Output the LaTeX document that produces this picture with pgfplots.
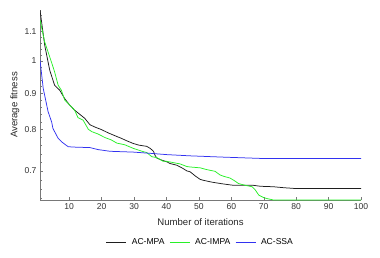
\documentclass[border=0pt]{standalone}
\usepackage{pgfplots}
\pgfplotsset{compat=1.18}
\usepackage{fontspec}
\setmainfont{Liberation Sans}
\definecolor{cblack}{RGB}{30,30,30}
\definecolor{cgreen}{RGB}{40,240,40}
\definecolor{cblue}{RGB}{50,50,240}
\definecolor{axgray}{RGB}{120,120,120}
\begin{document}
\begin{tikzpicture}[x=1bp,y=1bp]
\begin{axis}[
  scale only axis,
  width=321bp, height=190bp,
  ymode=log,
  xmin=1, xmax=100,
  ymin=0.637, ymax=1.179,
  axis x line*=bottom, axis y line*=left,
  axis line style={axgray, line width=0.5pt},
  tick align=inside,
  major tick length=3bp, minor tick length=1.8bp,
  tick style={axgray, line width=0.4pt},
  xtick={10,20,...,100},
  ytick={0.7,0.8,0.9,1,1.1},
  yticklabels={0.7,0.8,0.9,1,1.1},
  minor ytick={0.64,0.66,0.68,0.72,0.74,0.76,0.78,0.82,0.84,0.86,0.88,0.92,0.94,0.96,0.98,1.02,1.04,1.06,1.08,1.12,1.14,1.16},
  /pgf/number format/assume math mode=true,
  ticklabel style={font=\fontsize{8.6}{10}\selectfont, text=black!80},
  xlabel={Number of iterations},
  ylabel={Average fitness},
  label style={font=\fontsize{9.6}{11}\selectfont, text=black!85},
  xlabel style={at={(axis description cs:0.5,-0.116)}, anchor=center},
  ylabel style={at={(axis description cs:-0.078,0.5)}, anchor=center},
  legend style={at={(0.5,-0.225)}, anchor=center, draw=none, legend columns=3,
    font=\fontsize{8.6}{10}\selectfont, column sep=3bp,
    /tikz/every even column/.append style={column sep=3bp}},
  legend cell align=left,
  legend image code/.code={\draw[#1] (0bp,0bp) -- (20bp,0bp);},
  every axis plot/.append style={line width=0.75pt},
]
\addplot[cblack] coordinates {
(1,1.179) (2.45,1.052) (4,0.970) (5.5,0.924) (7.1,0.909) (8.6,0.885) (10,0.868) (11.7,0.852) (14.8,0.830) (16.4,0.813) (17.9,0.807) (20,0.800) (22,0.792) (24,0.785) (26.1,0.778) (28,0.771) (29.8,0.765) (31.5,0.761) (33.9,0.758) (35,0.753) (36,0.746) (36.5,0.736) (37,0.730) (38.5,0.725) (40.1,0.721) (41.1,0.717) (43.2,0.713) (45,0.706) (46.3,0.700) (47.3,0.698) (49,0.688) (50.4,0.681) (51.4,0.679) (54,0.675) (56.6,0.672) (58.6,0.670) (60.7,0.668) (66.8,0.668) (69,0.666) (73,0.665) (76,0.663) (80.2,0.661) (100,0.661)
};
\addlegendentry{AC-MPA}
\addplot[cgreen] coordinates {
(1,1.141) (2.45,1.063) (4.5,0.997) (5.5,0.965) (6.6,0.924) (7.6,0.909) (8.6,0.881) (10.2,0.866) (11.7,0.852) (12.7,0.832) (14.3,0.825) (15.9,0.801) (17,0.795) (18.9,0.789) (21,0.780) (23,0.774) (24.7,0.766) (27.1,0.762) (29.8,0.753) (32.9,0.745) (33.9,0.743) (35.5,0.733) (37,0.731) (39,0.722) (40.1,0.722) (44.2,0.716) (46.3,0.710) (47.3,0.709) (50.4,0.707) (52.4,0.703) (55,0.699) (56.5,0.691) (57.6,0.688) (59.6,0.684) (61,0.678) (62.2,0.672) (64.3,0.668) (66.4,0.665) (67.4,0.658) (68.5,0.647) (70,0.642) (71,0.640) (73,0.637) (100,0.637)
};
\addlegendentry{AC-IMPA}
\addplot[cblue] coordinates {
(1,1.002) (2,0.914) (3.5,0.848) (4.6,0.820) (5,0.803) (6.6,0.778) (7.7,0.769) (9.7,0.757) (12,0.756) (16.4,0.755) (19,0.750) (22.6,0.746) (29.8,0.744) (35,0.741) (40,0.738) (47.3,0.735) (57.6,0.732) (68.9,0.729) (100,0.729)
};
\addlegendentry{AC-SSA}
\end{axis}
\pgfresetboundingbox
\path (current axis.south west) ++(-40bp,-58bp) coordinate (bbA);
\path (current axis.north east) ++(19bp,10bp) coordinate (bbB);
\path[use as bounding box] (bbA) rectangle (bbB);
\end{tikzpicture}
\end{document}
